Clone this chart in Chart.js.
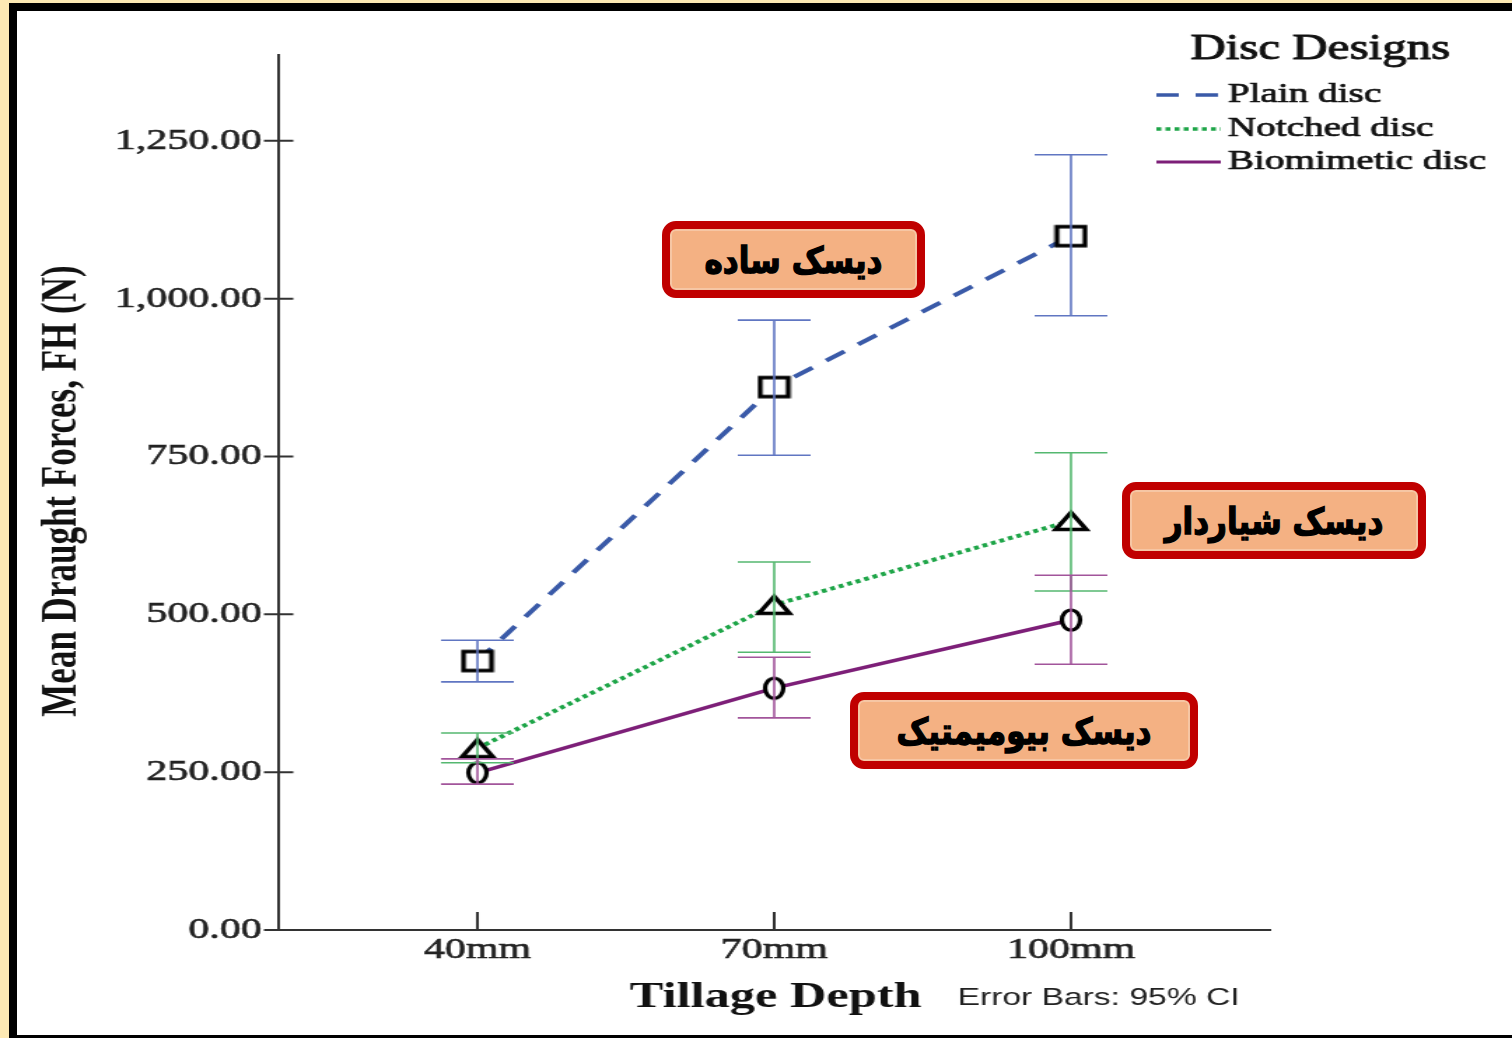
<!DOCTYPE html>
<html>
<head>
<meta charset="utf-8">
<script src="https://cdn.jsdelivr.net/npm/chart.js@4/dist/chart.umd.min.js"></script>
<style>
  html, body { margin: 0; padding: 0; width: 1512px; height: 1038px; overflow: hidden; background: #fde9b4; }
  #frame { position: absolute; left: 9px; top: 3px; width: 1503px; height: 1035px; box-sizing: border-box;
           background: #fff; border-left: 8px solid #000; border-top: 8px solid #000; border-bottom: 3px solid #000; }
  /* the chart is drawn on a narrower bitmap and widened, as in the exported SPSS figure */
  #chart { position: absolute; left: 0; top: 0; width: 1512px !important; height: 1038px !important; }
  .tag { position: absolute; box-sizing: border-box; border: 8px solid #c00000; border-radius: 14px;
         background: #f4b183; display: flex; align-items: center; justify-content: center;
         font-family: "DejaVu Sans", sans-serif; font-weight: bold; font-size: 31px; color: #000;
         -webkit-text-stroke: 1.2px #000; direction: rtl; box-shadow: inset 0 0 0 2px #f6c6a4; }
  .tag span { display: inline-block; transform: scaleY(1.18); }
</style>
</head>
<body>
<div id="frame"></div>
<canvas id="chart" width="1080" height="1038"></canvas>
<div class="tag" style="left:662px; top:221px; width:263px; height:77px;"><span>دیسک ساده</span></div>
<div class="tag" style="left:1122px; top:482px; width:304px; height:77px;"><span>دیسک شیاردار</span></div>
<div class="tag" style="left:850px; top:692px; width:348px; height:77px;"><span>دیسک بیومیمتیک</span></div>

<script>
// Tillage depths (x categories)
const depthLabels = ['40mm', '70mm', '100mm'];

// Mean draught force (N) with 95% confidence limits, per disc design
const plainMean   = [426, 860, 1099];
const plainLow    = [393, 752, 973];
const plainHigh   = [459, 966, 1228];

const notchedMean = [288, 515, 648];
const notchedLow  = [265, 440, 537];
const notchedHigh = [312, 583, 756];

const bioMean     = [249, 383, 491];
const bioLow      = [231, 336, 421];
const bioHigh     = [271, 432, 562];

// y-axis tick values
const yTickValues = [0, 250, 500, 750, 1000, 1250];

const SERIF = '"Liberation Serif", "Times New Roman", serif';
const SANS = '"Liberation Sans", Arial, sans-serif';

// hollow black markers (size is set first: resizing a canvas resets its context state)
function makeMarker(kind) {
  const c = document.createElement('canvas');
  if (kind === 'square') { c.width = 25; c.height = 25; }
  else if (kind === 'triangle') { c.width = 28; c.height = 24; }
  else { c.width = 22; c.height = 28; }
  const g = c.getContext('2d');
  g.strokeStyle = '#000';
  g.fillStyle = '#fff';
  g.lineJoin = 'miter';
  g.beginPath();
  if (kind === 'square') {
    g.lineWidth = 3.5;
    g.rect(2.5, 3, 20, 19);
  } else if (kind === 'triangle') {
    g.lineWidth = 3.5;
    g.moveTo(14, 3.5); g.lineTo(25, 20.5); g.lineTo(3, 20.5); g.closePath();
  } else {
    g.lineWidth = 3.2;
    g.ellipse(11, 14, 6.5, 10, 0, 0, Math.PI * 2);
  }
  g.fill();
  g.stroke();
  return c;
}

const toPoints = arr => arr.map((v, i) => ({ x: i, y: v }));

const datasets = [
  { label: 'Plain disc', data: toPoints(plainMean), low: plainLow, high: plainHigh,
    borderColor: '#3a5aa8', borderWidth: 4, borderDash: [16, 12], errorColor: '#6076c2',
    pointStyle: makeMarker('square') },
  { label: 'Notched disc', data: toPoints(notchedMean), low: notchedLow, high: notchedHigh,
    borderColor: '#1ea548', borderWidth: 4, borderDash: [3.5, 3], errorColor: '#55b870',
    pointStyle: makeMarker('triangle') },
  { label: 'Biomimetic disc', data: toPoints(bioMean), low: bioLow, high: bioHigh,
    borderColor: '#7d1f78', borderWidth: 3.5, borderDash: [], errorColor: '#a2559b',
    pointStyle: makeMarker('circle') }
].map(d => Object.assign(d, { fill: false, tension: 0, pointRadius: 10, pointHoverRadius: 10 }));

// confidence interval whiskers
const errorBars = {
  id: 'errorBars',
  afterDatasetsDraw(chart) {
    const { ctx, scales: { x, y } } = chart;
    const cap = 26;
    ctx.save();
    ctx.lineWidth = 1.6;
    chart.data.datasets.forEach(ds => {
      ctx.strokeStyle = ds.errorColor;
      ds.low.forEach((lo, i) => {
        const px = x.getPixelForValue(i);
        const yl = y.getPixelForValue(lo);
        const yh = y.getPixelForValue(ds.high[i]);
        ctx.beginPath();
        ctx.moveTo(px, yl); ctx.lineTo(px, yh);
        ctx.moveTo(px - cap, yl); ctx.lineTo(px + cap, yl);
        ctx.moveTo(px - cap, yh); ctx.lineTo(px + cap, yh);
        ctx.stroke();
      });
    });
    ctx.restore();
  }
};

// text drawn with a hairline outline so the serif faces read as heavy as the print
function heavyText(ctx, text, x, y, stroke) {
  ctx.lineWidth = stroke;
  ctx.strokeStyle = ctx.fillStyle;
  ctx.strokeText(text, x, y);
  ctx.fillText(text, x, y);
}

// axis tick marks, axis titles and legend
const decorations = {
  id: 'decorations',
  afterDraw(chart) {
    const { ctx, scales: { x, y }, chartArea: a } = chart;
    ctx.save();
    ctx.strokeStyle = '#333';
    ctx.lineWidth = 2;
    ctx.beginPath();
    y.ticks.forEach(t => {
      const py = y.getPixelForValue(t.value);
      ctx.moveTo(a.left - 10.5, py); ctx.lineTo(a.left + 10.5, py);
    });
    x.ticks.forEach(t => {
      const px = x.getPixelForValue(t.value);
      ctx.moveTo(px, a.bottom - 18); ctx.lineTo(px, a.bottom);
    });
    ctx.stroke();

    ctx.fillStyle = '#111';
    // y title
    ctx.save();
    ctx.translate(45, 491);
    ctx.rotate(-Math.PI / 2);
    ctx.font = 'bold 35px ' + SERIF;
    ctx.textAlign = 'center';
    ctx.textBaseline = 'middle';
    ctx.fillText('Mean Draught Forces, FH (N)', 0, 0);
    ctx.restore();

    // x title and note
    ctx.textBaseline = 'middle';
    ctx.textAlign = 'center';
    ctx.font = 'bold 36px ' + SERIF;
    ctx.fillText('Tillage Depth', 554, 998);
    ctx.textAlign = 'left';
    ctx.font = '24px ' + SANS;
    ctx.fillStyle = '#222';
    ctx.fillText('Error Bars: 95% CI', 684, 998);

    // legend
    ctx.fillStyle = '#111';
    ctx.textAlign = 'center';
    ctx.font = '35px ' + SERIF;
    heavyText(ctx, 'Disc Designs', 943, 50, 0.9);
    ctx.textAlign = 'left';
    ctx.font = '28px ' + SERIF;
    const rows = [95, 129, 162];
    chart.data.datasets.forEach((ds, i) => {
      const ry = rows[i];
      ctx.save();
      ctx.strokeStyle = ds.borderColor;
      ctx.lineWidth = ds.borderWidth - 0.5;
      ctx.setLineDash(ds.borderDash);
      ctx.beginPath(); ctx.moveTo(826, ry); ctx.lineTo(872, ry); ctx.stroke();
      ctx.restore();
      heavyText(ctx, ds.label, 877, ry, 0.7);
    });
    ctx.restore();
  }
};

new Chart(document.getElementById('chart'), {
  type: 'line',
  data: { datasets },
  options: {
    responsive: false,
    devicePixelRatio: 1,
    animation: false,
    events: [],
    layout: { padding: { left: 0, right: 173, top: 55, bottom: 0 } },
    plugins: { legend: { display: false }, tooltip: { enabled: false } },
    scales: {
      x: {
        type: 'linear', min: -0.67, max: 2.67,
        afterBuildTicks: s => { s.ticks = depthLabels.map((_, i) => ({ value: i })); },
        afterFit: s => { s.height = 108; },
        grid: { display: false, drawTicks: false, tickLength: 0 },
        border: { display: true, color: '#333', width: 2 },
        ticks: { padding: 2, color: '#222', textStrokeColor: '#222', textStrokeWidth: 0.6,
                 font: { family: SERIF, size: 30 },
                 callback: v => depthLabels[v] ?? '' }
      },
      y: {
        type: 'linear', min: 0, max: 1386,
        afterBuildTicks: s => { s.ticks = yTickValues.map(v => ({ value: v })); },
        afterFit: s => { s.width = 199; },
        grid: { display: false, drawTicks: false, tickLength: 0 },
        border: { display: true, color: '#333', width: 2 },
        ticks: { padding: 12, color: '#222', textStrokeColor: '#222', textStrokeWidth: 0.6,
                 font: { family: SERIF, size: 30 },
                 callback: v => Number(v).toLocaleString('en-US', { minimumFractionDigits: 2, maximumFractionDigits: 2 }) }
      }
    }
  },
  plugins: [errorBars, decorations]
});
</script>
</body>
</html>
